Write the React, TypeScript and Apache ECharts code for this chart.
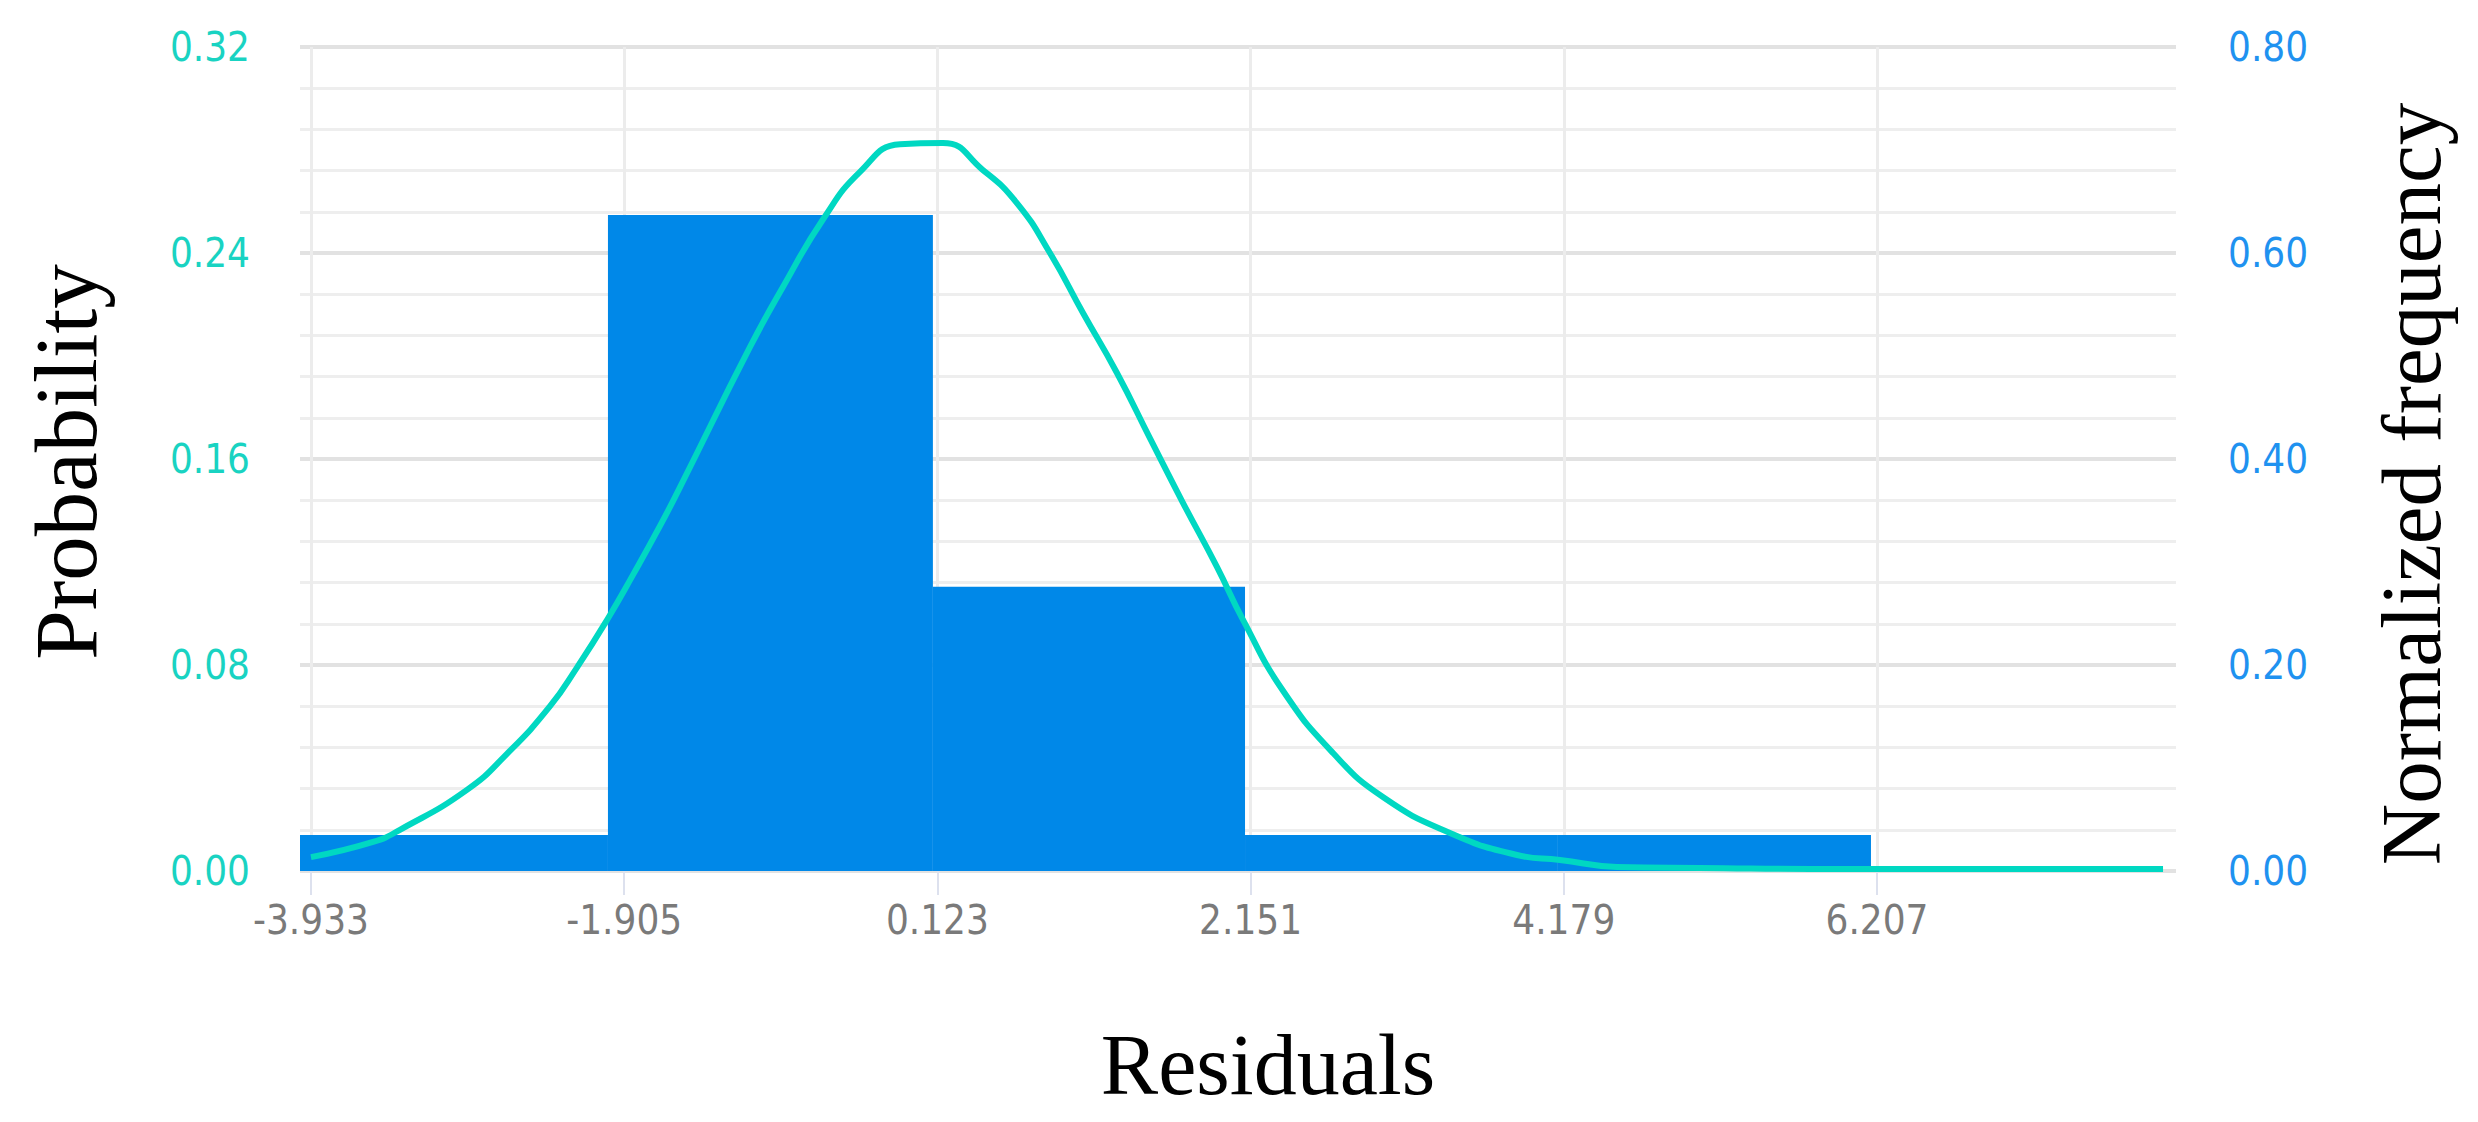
import React, { useEffect, useRef } from "react";
import * as echarts from "echarts";

// Histogram bins: start, end, normalized frequency (right axis)
const binStarts = [-4.004, -2.01, 0.094, 2.115, 4.141];
const binEnds = [-2.01, 0.094, 2.115, 4.141, 6.168];
const binFreq = [0.035, 0.637, 0.276, 0.035, 0.035];

// Fitted probability curve (left axis)
const curveX = [-3.933, -3.531, -3.357, -2.923, -2.664, -2.385, -2.211, -2.016, -1.848, -1.673, -1.544, -1.09, -0.877, -0.618, -0.378, -0.119, 0.159, 0.418, 0.638, 0.852, 1.066, 1.286, 1.5, 1.713, 1.934, 2.102, 2.361, 2.685, 3.008, 3.442, 3.876, 4.154, 4.523, 5.06, 6.0, 7.0, 8.059];
const curveY = [0.0054, 0.0113, 0.016, 0.0315, 0.0455, 0.064, 0.079, 0.0975, 0.115, 0.134, 0.149, 0.2035, 0.2268, 0.253, 0.2715, 0.2822, 0.2827, 0.2722, 0.2594, 0.24, 0.2167, 0.1934, 0.168, 0.143, 0.118, 0.0975, 0.07, 0.0458, 0.0287, 0.0148, 0.0062, 0.0043, 0.0016, 0.0012, 0.0008, 0.0008, 0.0008];

const xTicks = [-3.933, -1.905, 0.123, 2.151, 4.179, 6.207];

const LABEL_FONT = "'Liberation Sans Narrow', 'DejaVu Sans Condensed', 'Noto Sans', sans-serif";
const SERIF = "'Liberation Serif', 'DejaVu Serif', serif";

export default function App() {
  const ref = useRef<HTMLDivElement>(null);
  useEffect(() => {
    if (!ref.current) return;
    const chart = echarts.init(ref.current, undefined, { renderer: "svg" });
    const bars = binStarts.map((s, i) => [s, binEnds[i], binFreq[i]]);
    const curve = curveX.map((x, i) => [x, curveY[i]]);
    chart.setOption({
      animation: false,
      backgroundColor: "#ffffff",
      grid: { left: 300, right: 302, top: 47, bottom: 251, containLabel: false },
      xAxis: {
        type: "value",
        min: -4.004,
        max: 8.143,
        axisLine: { show: false },
        axisTick: {
          show: true,
          customValues: xTicks,
          length: 24,
          lineStyle: { color: "#dde1ee", width: 2 },
        },
        axisLabel: {
          customValues: xTicks,
          formatter: (v: number) => v.toFixed(3),
          color: "#7a7a7a",
          fontSize: 40,
          fontFamily: LABEL_FONT,
          margin: 29,
        },
        splitLine: { show: true, lineStyle: { color: "#ececec", width: 3 } },
      },
      yAxis: [
        {
          type: "value",
          position: "left",
          min: 0,
          max: 0.32,
          interval: 0.08,
          axisLine: { show: false },
          axisTick: { show: false },
          axisLabel: {
            formatter: (v: number) => v.toFixed(2),
            color: "#19d3c2",
            fontSize: 40,
            fontFamily: LABEL_FONT,
            margin: 50,
          },
          splitLine: { show: true, lineStyle: { color: "#e2e2e2", width: 4 } },
          minorTick: { show: false, splitNumber: 5 },
          minorSplitLine: { show: true, lineStyle: { color: "#eeeeee", width: 3 } },
        },
        {
          type: "value",
          position: "right",
          min: 0,
          max: 0.8,
          interval: 0.2,
          axisLine: { show: false },
          axisTick: { show: false },
          axisLabel: {
            formatter: (v: number) => v.toFixed(2),
            color: "#1f92f0",
            fontSize: 40,
            fontFamily: LABEL_FONT,
            margin: 52,
          },
          splitLine: { show: false },
        },
      ],
      series: [
        {
          type: "custom",
          xAxisIndex: 0,
          yAxisIndex: 1,
          encode: { x: [0, 1], y: 2 },
          data: bars,
          z: 2,
          renderItem: (params: any, api: any) => {
            const p0 = api.coord([api.value(0), api.value(2)]);
            const p1 = api.coord([api.value(1), 0]);
            return {
              type: "rect",
              shape: { x: p0[0], y: p0[1], width: p1[0] - p0[0], height: p1[1] - p0[1] },
              style: { fill: "#0088e8" },
            };
          },
        },
        {
          type: "line",
          xAxisIndex: 0,
          yAxisIndex: 0,
          data: curve,
          smooth: 0.5,
          symbol: "none",
          z: 3,
          lineStyle: { color: "#00d8c2", width: 6 },
        },
      ],
      graphic: [
        {
          type: "text",
          x: 1268,
          y: 1065,
          style: {
            text: "Residuals",
            fontSize: 86,
            fontFamily: SERIF,
            fill: "#000000",
            align: "center",
            verticalAlign: "middle",
            textAlign: "center",
            textVerticalAlign: "middle",
          },
        },
        {
          type: "text",
          x: 66,
          y: 462,
          rotation: Math.PI / 2,
          style: {
            text: "Probability",
            fontSize: 89,
            fontFamily: SERIF,
            fill: "#000000",
            align: "center",
            verticalAlign: "middle",
            textAlign: "center",
            textVerticalAlign: "middle",
          },
        },
        {
          type: "text",
          x: 2411,
          y: 484,
          rotation: Math.PI / 2,
          style: {
            text: "Normalized frequency",
            fontSize: 85,
            fontFamily: SERIF,
            fill: "#000000",
            align: "center",
            verticalAlign: "middle",
            textAlign: "center",
            textVerticalAlign: "middle",
          },
        },
      ],
    });
    return () => chart.dispose();
  }, []);
  return (
    <div
      ref={ref}
      style={{ position: "fixed", left: 0, top: 0, width: 2478, height: 1122, background: "#fff" }}
    />
  );
}
